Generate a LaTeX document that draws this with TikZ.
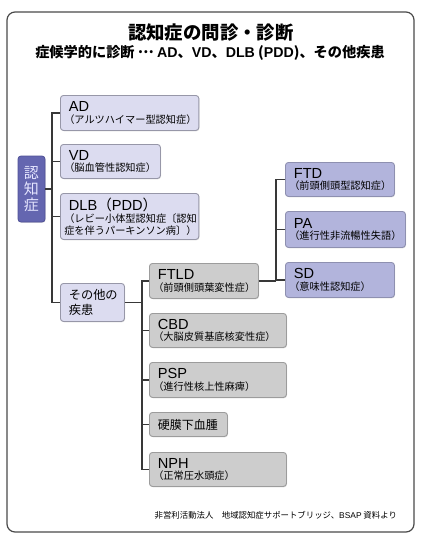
\documentclass[tikz,border=0pt]{standalone}
\usepackage{fontspec}
\setmainfont{Noto Sans CJK JP}
\newfontfamily\lat{Liberation Sans}
\usetikzlibrary{shadows}
\definecolor{frame}{HTML}{4A4A4A}
\definecolor{linkcol}{HTML}{383838}
\definecolor{demfill}{HTML}{6466B0}
\definecolor{demline}{HTML}{4E5096}
\definecolor{lavfill}{HTML}{DCDCF0}
\definecolor{lavline}{HTML}{9797A8}
\definecolor{blufill}{HTML}{B2B4DC}
\definecolor{bluline}{HTML}{8E90B0}
\definecolor{gryfill}{HTML}{CDCDCD}
\definecolor{gryline}{HTML}{9C9C9C}
\newcommand\hd[1]{{\fontsize{7.3}{7.3}\selectfont #1}}
\newcommand\sub[1]{\\\hspace*{-2.3pt}#1}
\tikzset{
  box/.style={anchor=north west, rounded corners=1.5pt, line width=0.45pt, align=left,
    inner xsep=4.2pt, inner ysep=0pt, font=\fontsize{5.1}{5.9}\selectfont,
    drop shadow={shadow xshift=0.3pt, shadow yshift=-0.4pt, opacity=0.25}},
  lav/.style={box, draw=lavline, fill=lavfill},
  blu/.style={box, draw=bluline, fill=blufill},
  gry/.style={box, draw=gryline, fill=gryfill},
  link/.style={draw=linkcol, line width=0.55pt},
}
\begin{document}
\begin{tikzpicture}[x=0.5pt,y=-0.5pt]
  \useasboundingbox (0,0) rectangle (422,537);
  \draw[frame, line width=0.6pt, rounded corners=4pt] (7,12) rectangle (414,532);

  % title
  \node (title) at (211,33) {\fontsize{9.2}{9.2}\selectfont\bfseries 認知症の問診・診断};
  \node (subtitle) at (210,53) {\fontsize{7.1}{7.1}\selectfont\bfseries 症候学的に診断 \raisebox{0.3em}{…} {\lat AD}、{\lat VD}、{\lat DLB} ({\lat PDD})、その他疾患};

  % root
  \node[draw=demline, fill=demfill, rounded corners=1.5pt, minimum width=13.5pt, minimum height=33pt,
    align=center, inner sep=0pt, text=white!90!blue, font=\fontsize{7.5}{7.9}\selectfont,
    drop shadow={shadow xshift=0.3pt, shadow yshift=-0.4pt, opacity=0.25}]
    (dem) at (31.5,189) {認\\知\\症};

  % first level
  \node[lav, text width=60.8pt, minimum height=17.5pt] (ad) at (60,95) {\hd{\lat AD}\sub{（アルツハイマー型認知症）}};
  \node[lav, text width=41.6pt, minimum height=17pt] (vd) at (60,144) {\hd{\lat VD}\sub{（脳血管性認知症）}};
  \node[lav, text width=60.8pt, minimum height=23pt] (dlb) at (60,193) {\hd{{\lat DLB}（{\lat PDD}）}\sub{（レビー小体型認知症〔認知}\sub{症を伴うパーキンソン病〕）}};
  \node[lav, text width=23.6pt, minimum height=19pt, font=\fontsize{6.1}{7.6}\selectfont] (other) at (60,283) {その他の\\疾患};

  % second level
  \node[gry, text width=46.1pt, minimum height=17.5pt] (ftld) at (149,263) {\hd{\lat FTLD}\sub{（前頭側頭葉変性症）}};
  \node[gry, text width=60.1pt, minimum height=17pt] (cbd) at (149,313) {\hd{\lat CBD}\sub{（大脳皮質基底核変性症）}};
  \node[gry, text width=60.1pt, minimum height=17.5pt] (psp) at (149,362) {\hd{\lat PSP}\sub{（進行性核上性麻痺）}};
  \node[gry, text width=30.6pt, minimum height=12pt, font=\fontsize{6}{6}\selectfont] (sdh) at (149,412) {硬膜下血腫};
  \node[gry, text width=60.1pt, minimum height=17pt] (nph) at (149,452) {\hd{\lat NPH}\sub{（正常圧水頭症）}};

  % third level
  \node[blu, text width=46.1pt, minimum height=17pt] (ftd) at (285,162) {\hd{\lat FTD}\sub{（前頭側頭型認知症）}};
  \node[blu, text width=51.6pt, minimum height=18pt] (pa) at (285,211) {\hd{\lat PA}\sub{（進行性非流暢性失語）}};
  \node[blu, text width=46.1pt, minimum height=17.5pt] (sd) at (285,262) {\hd{\lat SD}\sub{（意味性認知症）}};

  % connectors
  \coordinate (s1) at (52,0);
  \coordinate (s2) at (142,0);
  \coordinate (s3) at (276,0);
  \draw[link] (dem.east) -- (dem.east -| s1);
  \draw[link] (ad.west) -- (ad.west -| s1) -- (other.west -| s1) -- (other.west);
  \foreach \n in {vd,dlb} \draw[link] (\n.west) -- (\n.west -| s1);
  \draw[link] (other.east) -- (other.east -| s2);
  \draw[link] (ftld.west) -- (ftld.west -| s2) -- (nph.west -| s2) -- (nph.west);
  \foreach \n in {cbd,psp,sdh} \draw[link] (\n.west) -- (\n.west -| s2);
  \draw[link] (ftld.east) -- (ftld.east -| s3);
  \draw[link] (ftd.west) -- (ftd.west -| s3) -- (sd.west -| s3) -- (sd.west);
  \draw[link] (pa.west) -- (pa.west -| s3);

  % source
  \node[anchor=east, font=\fontsize{4.2}{4.2}\selectfont] (src) at (404,515) {非営利活動法人　地域認知症サポートブリッジ、{\lat BSAP} 資料より};
\end{tikzpicture}
\end{document}
